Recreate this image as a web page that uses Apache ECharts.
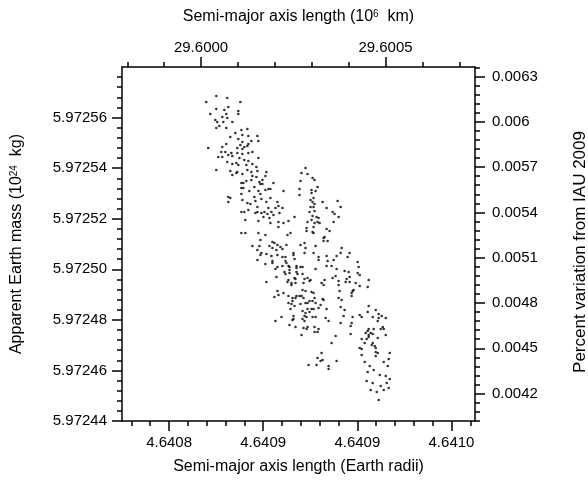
<!DOCTYPE html>
<html><head><meta charset="utf-8">
<script src="https://cdn.jsdelivr.net/npm/echarts@6/dist/echarts.min.js"></script>
<style>html,body{margin:0;padding:0;background:#fff}#c{width:588px;height:482px}</style>
</head><body><div id="c"></div>
<script>
// Semi-major axis length (Earth radii, as labelled) of each sample
const semiMajorRadii = [
4.64086006,4.64086474,4.64085580,4.64087028,4.64086006,4.64086347,4.64086517,4.64086943,4.64086943,4.64085750,
4.64086432,4.64086261,4.64086474,4.64085963,4.64086688,4.64086048,4.64086304,4.64086134,4.64086006,4.64086432,
4.64087071,4.64087327,4.64086815,4.64087114,4.64087369,4.64087753,4.64086602,4.64086943,4.64087796,4.64087497,
4.64087114,4.64087369,4.64087327,4.64087028,4.64086432,4.64085665,4.64086261,4.64086901,4.64087114,4.64087199,
4.64086389,4.64086219,4.64086645,4.64086517,4.64086901,4.64087114,4.64087369,4.64087540,4.64087796,4.64086091,
4.64086261,4.64086688,4.64086986,4.64087199,4.64087369,4.64086474,4.64086858,4.64086688,4.64086943,4.64087284,
4.64087540,4.64087710,4.64086006,4.64086602,4.64087327,4.64086901,4.64087753,4.64086858,4.64087497,4.64088136,
4.64087114,4.64086688,4.64087540,4.64088094,4.64087710,4.64087497,4.64087966,4.64087284,4.64087838,4.64087071,
4.64087156,4.64087881,4.64087966,4.64088435,4.64087625,4.64087071,4.64087156,4.64088222,4.64088094,4.64088307,
4.64087412,4.64087796,4.64088861,4.64087071,4.64087881,4.64087625,4.64086517,4.64086602,4.64086517,4.64087114,
4.64087923,4.64088307,4.64087327,4.64087455,4.64087668,4.64087753,4.64088136,4.64088605,4.64088222,4.64087071,
4.64087199,4.64087369,4.64087753,4.64088051,4.64088520,4.64088648,4.64088818,4.64087668,4.64087923,4.64088179,
4.64088350,4.64088435,4.64088264,4.64088009,4.64088690,4.64089330,4.64087242,4.64087796,4.64088307,4.64088648,
4.64088861,4.64089074,4.64088648,4.64089798,4.64089628,4.64089884,4.64090097,4.64089585,4.64090182,4.64090310,
4.64089543,4.64090054,4.64090225,4.64090054,4.64089543,4.64090139,4.64090012,4.64090097,4.64090182,4.64090012,
4.64090139,4.64089969,4.64090182,4.64090097,4.64090267,4.64090054,4.64090352,4.64089884,4.64090182,4.64090310,
4.64090139,4.64089841,4.64087071,4.64087242,4.64087796,4.64088094,4.64089031,4.64089159,4.64089841,4.64090097,
4.64090139,4.64087881,4.64088392,4.64088477,4.64087540,4.64087838,4.64088264,4.64088605,4.64088733,4.64088989,
4.64089585,4.64089756,4.64090225,4.64088392,4.64088563,4.64088818,4.64087753,4.64089798,4.64087923,4.64088136,
4.64087881,4.64088350,4.64088605,4.64089287,4.64089287,4.64089756,4.64090139,4.64090352,4.64088818,4.64088946,
4.64089330,4.64087753,4.64088392,4.64088946,4.64090352,4.64088094,4.64088392,4.64088989,4.64088605,4.64088818,
4.64089074,4.64089117,4.64089415,4.64089415,4.64089585,4.64089671,4.64089117,4.64088520,4.64090225,4.64088904,
4.64089415,4.64089117,4.64089458,4.64088946,4.64089671,4.64088563,4.64089330,4.64089372,4.64089756,4.64089884,
4.64090012,4.64089074,4.64088136,4.64089031,4.64089202,4.64089202,4.64089372,4.64089713,4.64089969,4.64088605,
4.64089671,4.64089798,4.64088861,4.64090054,4.64090139,4.64088648,4.64088477,4.64089074,4.64089245,4.64089415,
4.64089543,4.64089628,4.64089372,4.64089713,4.64090182,4.64089245,4.64089969,4.64090097,4.64089074,4.64089202,
4.64089330,4.64089585,4.64089798,4.64089884,4.64090225,4.64089159,4.64089884,4.64090054,4.64090139,4.64090352,
4.64089671,4.64089798,4.64089969,4.64089287,4.64089756,4.64089841,4.64090097,4.64090225,4.64089671,4.64088520,
4.64088776,4.64089245,4.64089287,4.64089756,4.64089117,4.64089372,4.64089713,4.64089841,4.64089884,4.64090182,
4.64090352,4.64090182,4.64090310,4.64089628,4.64090310,4.64089926,4.64090267,4.64091119,4.64090779,4.64090779,
4.64090523,4.64090438,4.64091162,4.64090523,4.64091290,4.64090693,4.64090949,4.64091034,4.64091205,4.64090395,
4.64090992,4.64090693,4.64090821,4.64090608,4.64090566,4.64090736,4.64090566,4.64091333,4.64091290,4.64091673,
4.64091119,4.64091588,4.64090693,4.64090992,4.64090736,4.64092014,4.64090693,4.64090906,4.64092057,4.64091119,
4.64091460,4.64091631,4.64092014,4.64092100,4.64091673,4.64091546,4.64090949,4.64091077,4.64090608,4.64090566,
4.64090480,4.64091205,4.64091205,4.64091503,4.64091673,4.64091929,4.64092483,4.64092100,4.64092440,4.64091844,
4.64091801,4.64091759,4.64091247,4.64091759,4.64091205,4.64091333,4.64090523,4.64090566,4.64090438,4.64091290,
4.64090693,4.64091460,4.64092483,4.64092781,4.64092440,4.64092100,4.64092185,4.64091418,4.64090651,4.64090779,
4.64092654,4.64092909,4.64093037,4.64093208,4.64092909,4.64092867,4.64091801,4.64091759,4.64091290,4.64091716,
4.64093080,4.64092994,4.64093122,4.64092483,4.64092440,4.64092355,4.64092568,4.64092696,4.64092483,4.64092654,
4.64093208,4.64092867,4.64092185,4.64091716,4.64091077,4.64090906,4.64092483,4.64092398,4.64092313,4.64092654,
4.64092611,4.64092739,4.64092100,4.64092185,4.64092781,4.64092781,4.64092867,4.64092185,4.64092781,4.64093378,
4.64093335,4.64090480,4.64092313,4.64092526,4.64093122,4.64093293,4.64092440,4.64092696,4.64092952,4.64093208,
4.64093378,4.64092398,4.64092654,4.64092994,4.64093250,4.64092568,4.64092824,4.64093122,4.64093335,4.64092909
];
// Apparent Earth mass (10^24 kg) of each sample
const apparentMass = [
5.97256853,5.97256773,5.97256616,5.97256616,5.97256339,5.97256299,5.97256418,5.97256260,5.97256141,5.97256141,
5.97256141,5.97256022,5.97255983,5.97255903,5.97255824,5.97255824,5.97255824,5.97255666,5.97255587,5.97255587,
5.97255508,5.97255547,5.97255389,5.97255310,5.97255271,5.97255271,5.97255231,5.97255152,5.97255073,5.97255073,
5.97255033,5.97254954,5.97254875,5.97254915,5.97254954,5.97254796,5.97254835,5.97254796,5.97254756,5.97254835,
5.97254638,5.97254638,5.97254598,5.97254519,5.97254598,5.97254559,5.97254598,5.97254638,5.97254400,5.97254440,
5.97254440,5.97254479,5.97254400,5.97254322,5.97254282,5.97254243,5.97254203,5.97254164,5.97254124,5.97254124,
5.97254164,5.97254045,5.97253927,5.97253887,5.97253927,5.97253847,5.97253887,5.97253808,5.97253847,5.97253847,
5.97253768,5.97253729,5.97253689,5.97253689,5.97253650,5.97253531,5.97253531,5.97253491,5.97253452,5.97253412,
5.97253412,5.97253373,5.97253373,5.97253412,5.97253254,5.97253215,5.97253215,5.97253175,5.97253136,5.97253175,
5.97253096,5.97253096,5.97253096,5.97252977,5.97252977,5.97252859,5.97252859,5.97252819,5.97252661,5.97252740,
5.97252780,5.97252819,5.97252621,5.97252582,5.97252700,5.97252463,5.97252661,5.97252661,5.97252424,5.97252265,
5.97252265,5.97252345,5.97252265,5.97252265,5.97252424,5.97252503,5.97252424,5.97252226,5.97252226,5.97252186,
5.97252265,5.97252147,5.97252028,5.97252068,5.97252226,5.97252068,5.97251949,5.97251910,5.97251830,5.97251870,
5.97251830,5.97251910,5.97251672,5.97254006,5.97253808,5.97253768,5.97253610,5.97253491,5.97253531,5.97253254,
5.97253175,5.97253136,5.97253096,5.97253017,5.97252938,5.97252819,5.97252740,5.97252661,5.97252582,5.97252463,
5.97252463,5.97252265,5.97252305,5.97252107,5.97252068,5.97251949,5.97252028,5.97251870,5.97251830,5.97251870,
5.97251672,5.97251633,5.97251435,5.97251435,5.97251435,5.97251356,5.97251356,5.97251435,5.97251514,5.97251475,
5.97251435,5.97251158,5.97251079,5.97251040,5.97250921,5.97250921,5.97250921,5.97250960,5.97250881,5.97250960,
5.97250960,5.97251040,5.97250921,5.97250842,5.97250763,5.97250802,5.97250763,5.97250842,5.97250644,5.97250605,
5.97250565,5.97250525,5.97250565,5.97250644,5.97250565,5.97250644,5.97250644,5.97250486,5.97250486,5.97250486,
5.97250407,5.97250367,5.97250328,5.97250328,5.97250367,5.97250209,5.97250249,5.97250249,5.97250090,5.97250130,
5.97250130,5.97250090,5.97250130,5.97250051,5.97250090,5.97250090,5.97249972,5.97250011,5.97250011,5.97249893,
5.97249893,5.97249853,5.97249814,5.97249814,5.97249814,5.97249695,5.97249655,5.97249616,5.97249616,5.97249655,
5.97249576,5.97249576,5.97249497,5.97249497,5.97249458,5.97249379,5.97249458,5.97249458,5.97249537,5.97249141,
5.97249181,5.97249141,5.97249062,5.97249102,5.97249062,5.97248983,5.97248904,5.97248944,5.97248865,5.97248944,
5.97248944,5.97248944,5.97248865,5.97248865,5.97248865,5.97248746,5.97248746,5.97248746,5.97248667,5.97248627,
5.97248548,5.97248627,5.97248667,5.97248667,5.97248667,5.97248430,5.97248430,5.97248430,5.97248430,5.97248469,
5.97248350,5.97248271,5.97248311,5.97248153,5.97248153,5.97248113,5.97248113,5.97248113,5.97248034,5.97247955,
5.97248113,5.97247995,5.97248034,5.97247955,5.97247797,5.97247718,5.97247678,5.97247639,5.97247718,5.97247718,
5.97247639,5.97247520,5.97247520,5.97247401,5.97246492,5.97246215,5.97246215,5.97246373,5.97246175,5.97246057,
5.97246412,5.97246373,5.97252700,5.97252661,5.97252463,5.97252424,5.97252265,5.97252186,5.97252068,5.97251830,
5.97251870,5.97251593,5.97251514,5.97251277,5.97251237,5.97251119,5.97251119,5.97250842,5.97250644,5.97250644,
5.97250525,5.97250486,5.97250525,5.97250367,5.97250328,5.97250288,5.97250130,5.97250130,5.97250090,5.97250011,
5.97249932,5.97249893,5.97249853,5.97249774,5.97249695,5.97249616,5.97249655,5.97249735,5.97249576,5.97249379,
5.97249458,5.97249537,5.97249379,5.97249497,5.97249497,5.97249458,5.97249576,5.97249339,5.97249300,5.97249181,
5.97249141,5.97249062,5.97249141,5.97248944,5.97248865,5.97248785,5.97248825,5.97248785,5.97248588,5.97248509,
5.97248430,5.97248390,5.97248548,5.97248390,5.97248311,5.97248192,5.97248113,5.97248153,5.97248074,5.97247955,
5.97248113,5.97248232,5.97248153,5.97248074,5.97248074,5.97247955,5.97248113,5.97247876,5.97247876,5.97247757,
5.97247718,5.97247639,5.97247639,5.97247639,5.97247559,5.97247480,5.97247480,5.97247639,5.97247401,5.97247441,
5.97247401,5.97247283,5.97247243,5.97247441,5.97247362,5.97247085,5.97247322,5.97247243,5.97247085,5.97247085,
5.97247006,5.97246966,5.97246887,5.97246848,5.97246887,5.97246729,5.97246689,5.97246610,5.97246571,5.97246689,
5.97246452,5.97246689,5.97246333,5.97246175,5.97246333,5.97246175,5.97245938,5.97246017,5.97245819,5.97245780,
5.97245661,5.97245582,5.97245503,5.97245384,5.97245503,5.97245226,5.97245147,5.97245226,5.97245305,5.97244830
];

// Axis ranges and tick values
const RADII_MIN = 4.64082, RADII_MAX = 4.64097;
const MASS_MIN = 5.97244, MASS_MAX = 5.97258;
const radiiMajorTicks = [4.64084, 4.64088, 4.64092, 4.64096];
const radiiMinorTicks = [4.640824, 4.640832, 4.640848, 4.640856, 4.640864, 4.640872, 4.640888, 4.640896,
  4.640904, 4.640912, 4.640928, 4.640936, 4.640944, 4.640952, 4.640968];
const kmMajorTicks = [29.6000, 29.6005];
const kmMinorTicks = [29.5998, 29.5999, 29.6001, 29.6002, 29.6003, 29.6004, 29.6006, 29.6007];
const massMajorTicks = [5.97244, 5.97246, 5.97248, 5.97250, 5.97252, 5.97254, 5.97256];
const massMinorTicks = [5.972444, 5.972448, 5.972452, 5.972456, 5.972464, 5.972468, 5.972472, 5.972476,
  5.972484, 5.972488, 5.972492, 5.972496, 5.972504, 5.972508, 5.972512, 5.972516, 5.972524, 5.972528,
  5.972532, 5.972536, 5.972544, 5.972548, 5.972552, 5.972556, 5.972564, 5.972568, 5.972572, 5.972576];
const percentMajorTicks = [0.0042, 0.0045, 0.0048, 0.0051, 0.0054, 0.0057, 0.0060, 0.0063];
const percentMinorTicks = [0.00402, 0.00408, 0.00414, 0.00426, 0.00432, 0.00438, 0.00444, 0.00456, 0.00462,
  0.00468, 0.00474, 0.00486, 0.00492, 0.00498, 0.00504, 0.00516, 0.00522, 0.00528, 0.00534, 0.00546, 0.00552,
  0.00558, 0.00564, 0.00576, 0.00582, 0.00588, 0.00594, 0.00606, 0.00612, 0.00618, 0.00624, 0.00636];

const EARTH_RADIUS_1E3KM = 6.378137;   // 10^6 km per (10^3) Earth radii
const IAU2009_MASS = 5.9722;           // 10^24 kg
const toKm = r => r * EARTH_RADIUS_1E3KM;
const toPct = m => (m / IAU2009_MASS - 1) * 100;

const FONT = 'Liberation Sans';
const LINE = { color: '#000', width: 1.5 };
const labelStyle = { color: '#000', fontFamily: FONT, fontSize: 15 };
const nameStyle = { color: '#000', fontFamily: FONT, fontSize: 16,
  rich: { s: { fontSize: 10, fontFamily: FONT, color: '#000', verticalAlign: 'top', lineHeight: 10 } } };

function majorAxis(o) {
  return {
    type: 'value', position: o.pos, min: o.min, max: o.max, gridIndex: 0,
    axisLine: { show: true, onZero: false, lineStyle: LINE },
    axisTick: { show: true, inside: false, length: 10, lineStyle: LINE, customValues: o.ticks },
    axisLabel: Object.assign({ show: true, customValues: o.ticks, formatter: o.fmt, margin: o.margin }, labelStyle),
    splitLine: { show: false },
    name: o.name, nameLocation: 'middle', nameGap: o.nameGap, nameTextStyle: o.nameStyle || nameStyle
  };
}
function minorAxis(o) {
  return {
    type: 'value', position: o.pos, min: o.min, max: o.max, gridIndex: 0,
    axisLine: { show: false, onZero: false },
    axisTick: { show: true, inside: false, length: 5, lineStyle: LINE, customValues: o.ticks },
    axisLabel: { show: false }, splitLine: { show: false }
  };
}

const option = {
  animation: false,
  backgroundColor: '#fff',
  grid: { left: 122, top: 67, width: 353, height: 354, containLabel: false, outerBoundsMode: 'none' },
  xAxis: [
    majorAxis({ pos: 'bottom', min: RADII_MIN, max: RADII_MAX, ticks: radiiMajorTicks, fmt: v => v.toFixed(4), margin: 14,
      name: 'Semi-major axis length (Earth radii)', nameGap: 38 }),
    minorAxis({ pos: 'bottom', min: RADII_MIN, max: RADII_MAX, ticks: radiiMinorTicks }),
    majorAxis({ pos: 'top', min: toKm(RADII_MIN), max: toKm(RADII_MAX), ticks: kmMajorTicks, fmt: v => v.toFixed(4), margin: 12,
      name: 'Semi-major axis length (10{s|6}  km)', nameGap: 42 }),
    minorAxis({ pos: 'top', min: toKm(RADII_MIN), max: toKm(RADII_MAX), ticks: kmMinorTicks })
  ],
  yAxis: [
    majorAxis({ pos: 'left', min: MASS_MIN, max: MASS_MAX, ticks: massMajorTicks, fmt: v => v.toFixed(5), margin: 15,
      name: 'Apparent Earth mass (10{s|24}  kg)', nameGap: 97 }),
    minorAxis({ pos: 'left', min: MASS_MIN, max: MASS_MAX, ticks: massMinorTicks }),
    majorAxis({ pos: 'right', min: toPct(MASS_MIN), max: toPct(MASS_MAX), ticks: percentMajorTicks,
      fmt: v => String(parseFloat(v.toFixed(4))), margin: 17,
      name: 'Percent variation from IAU 2009', nameGap: 97,
      nameStyle: { color: '#000', fontFamily: FONT, fontSize: 17, padding: [0, 16, 0, 0] } }),
    minorAxis({ pos: 'right', min: toPct(MASS_MIN), max: toPct(MASS_MAX), ticks: percentMinorTicks })
  ],
  series: [{
    type: 'scatter', xAxisIndex: 0, yAxisIndex: 0, silent: true,
    symbol: 'circle', symbolSize: 2.6, itemStyle: { color: '#000' },
    data: semiMajorRadii.map((x, i) => [x, apparentMass[i]])
  }]
};
const chart = echarts.init(document.getElementById('c'), null, { renderer: 'canvas' });
chart.setOption(option);
</script></body></html>
